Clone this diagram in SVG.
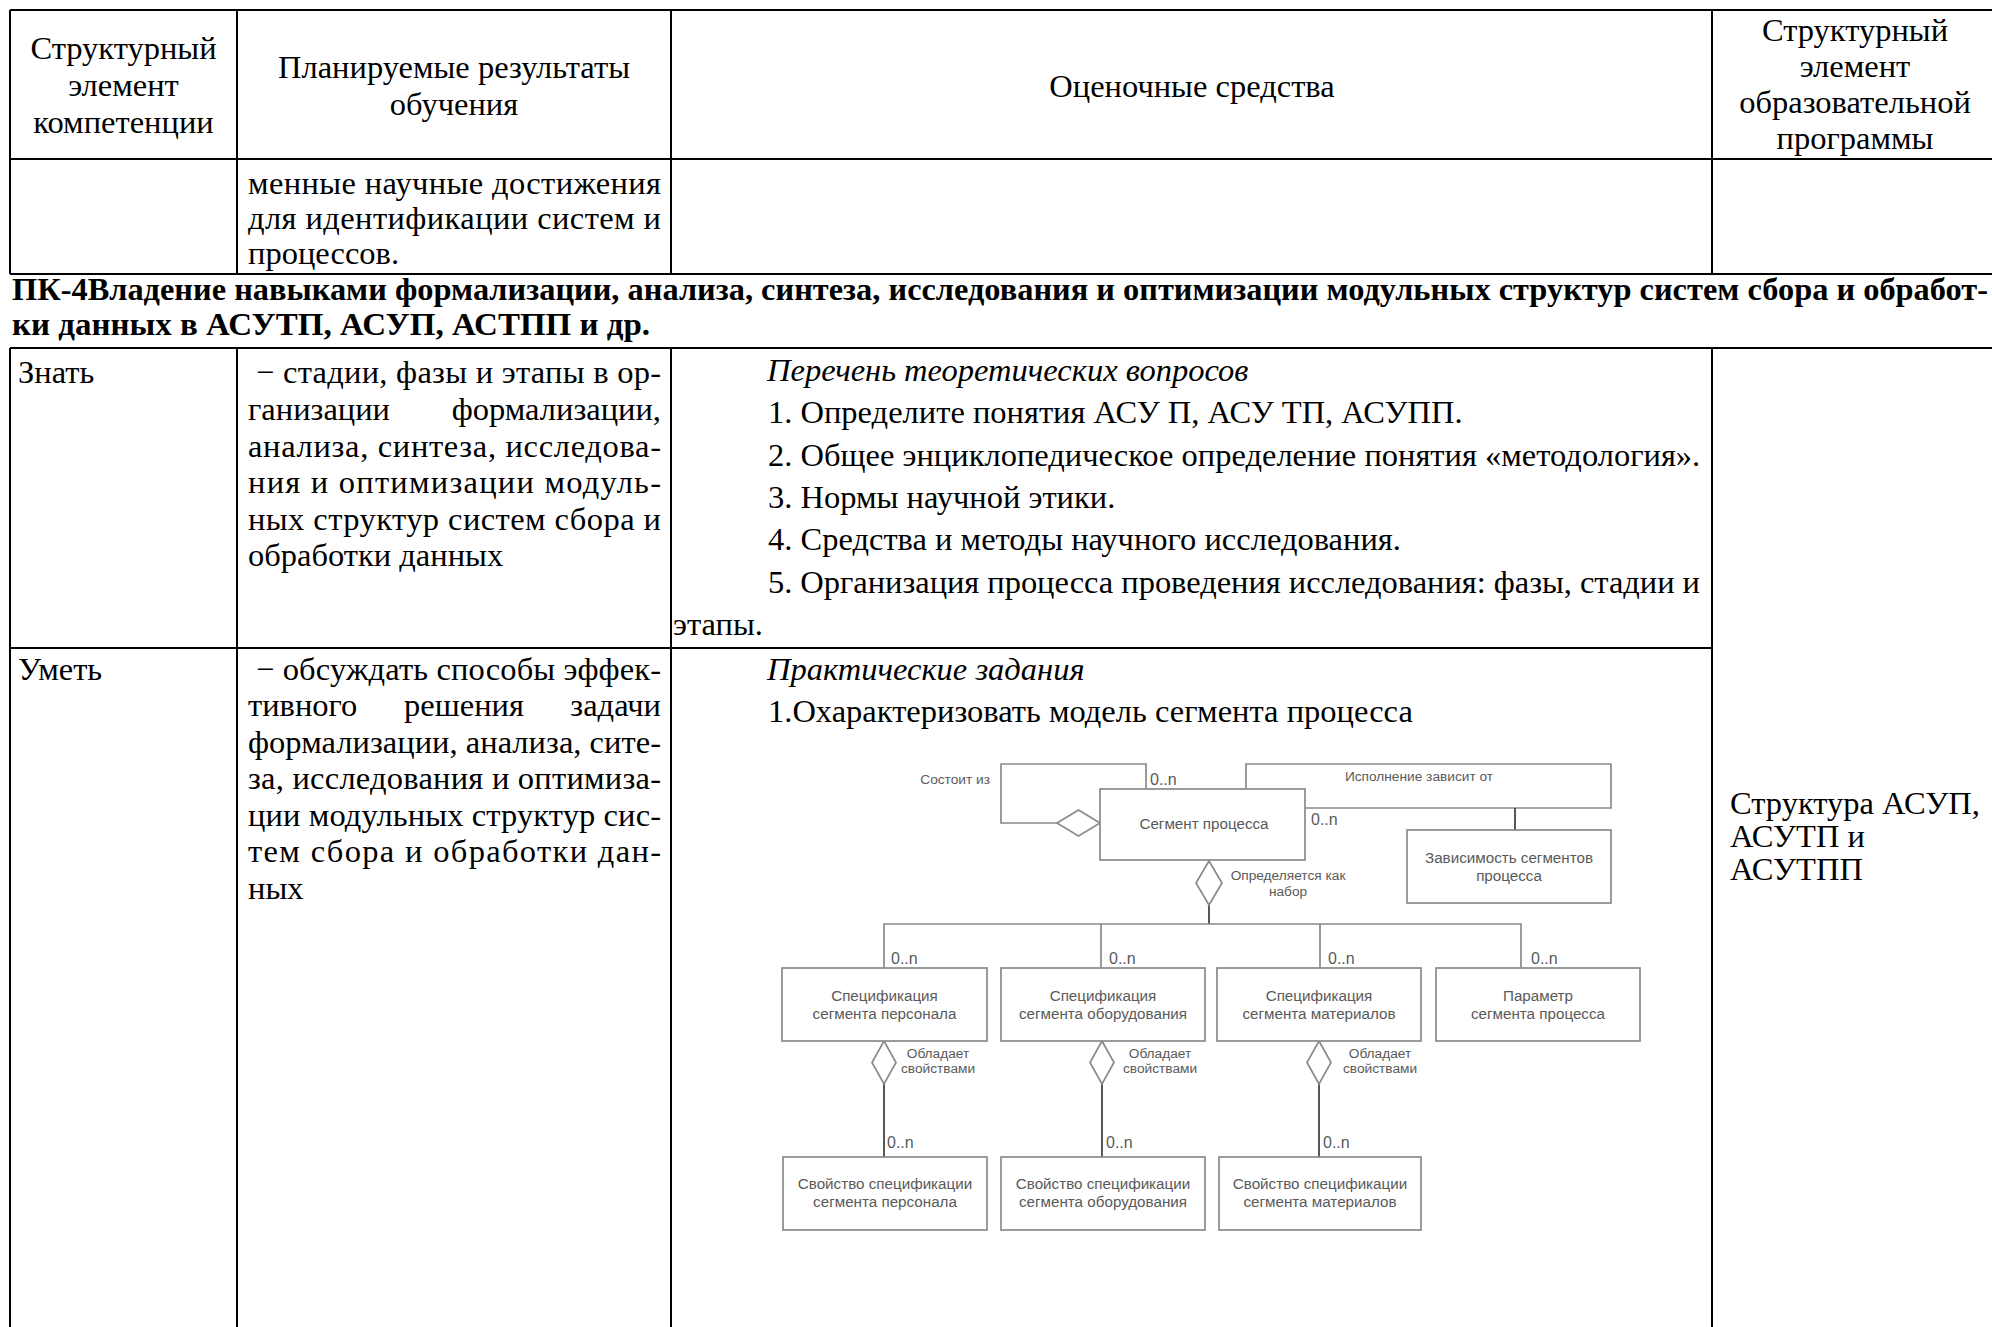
<svg xmlns="http://www.w3.org/2000/svg" width="1992" height="1327" viewBox="0 0 1992 1327">
<style>
.t{font-family:"Liberation Serif","Times New Roman",serif;font-size:32.5px;fill:#000}
.b{font-weight:bold}
.i{font-style:italic}
.c{text-anchor:middle}
.e{text-anchor:end}
.ln{stroke:#000;stroke-width:2;fill:none}
.bx{fill:#fff;stroke:#8a8a8a;stroke-width:1.7}
.dl{stroke:#8a8a8a;stroke-width:1.7;fill:none}
.dk{stroke:#3a3a3a;stroke-width:1.7;fill:none}
.dm{fill:#fff;stroke:#8a8a8a;stroke-width:1.7}
.dt{font-family:"Liberation Sans",Arial,sans-serif;font-size:15.2px;fill:#5a5a5a;text-anchor:middle}
.ds{font-family:"Liberation Sans",Arial,sans-serif;font-size:13.7px;fill:#5a5a5a}
.dn{font-family:"Liberation Sans",Arial,sans-serif;font-size:16px;fill:#5a5a5a}
</style>
<rect width="1992" height="1327" fill="#fff"/>
<g id="grid" class="ln">
<path d="M10 10H1992M10 159H1992M10 274H1992M10 348H1992M10 648H1712"/>
<path d="M10 10V274M10 348V1327M237 10V274M237 348V1327M671 10V274M671 348V1327M1712 10V274M1712 348V1327"/>
</g>
<g id="header" class="t">
<text class="c" x="123.5" y="59">Структурный</text>
<text class="c" x="123.5" y="96">элемент</text>
<text class="c" x="123.5" y="133">компетенции</text>
<text class="c" x="454" y="78">Планируемые результаты</text>
<text class="c" x="454" y="115">обучения</text>
<text class="c" x="1192" y="97">Оценочные средства</text>
<text class="c" x="1855" y="41">Структурный</text>
<text class="c" x="1855" y="77">элемент</text>
<text class="c" x="1855" y="113">образовательной</text>
<text class="c" x="1855" y="149">программы</text>
</g>
<g id="row-prev" class="t">
<text x="248" y="194" textLength="413" lengthAdjust="spacing">менные научные достижения</text>
<text x="248" y="229" textLength="413" lengthAdjust="spacing">для идентификации систем и</text>
<text x="248" y="264">процессов.</text>
</g>
<g id="pk4" class="t b">
<text x="12" y="300" textLength="1976" lengthAdjust="spacingAndGlyphs">ПК-4Владение навыками формализации, анализа, синтеза, исследования и оптимизации модульных структур систем сбора и обработ-</text>
<text x="12" y="335" textLength="638" lengthAdjust="spacingAndGlyphs">ки данных в АСУТП, АСУП, АСТПП и др.</text>
</g>
<g id="znat" class="t">
<text x="18" y="383">Знать</text>
<text x="256" y="383" textLength="405" lengthAdjust="spacing">− стадии, фазы и этапы в ор-</text>
<text x="248" y="420">ганизации</text>
<text class="e" x="661" y="420">формализации,</text>
<text x="248" y="456.5" textLength="413" lengthAdjust="spacing">анализа, синтеза, исследова-</text>
<text x="248" y="493" textLength="413" lengthAdjust="spacing">ния и оптимизации модуль-</text>
<text x="248" y="529.5" textLength="413" lengthAdjust="spacing">ных структур систем сбора и</text>
<text x="248" y="566">обработки данных</text>
<text class="i" x="767" y="381">Перечень теоретических вопросов</text>
<text x="768" y="423">1. Определите понятия АСУ П, АСУ ТП, АСУПП.</text>
<text x="768" y="465.5">2. Общее энциклопедическое определение понятия «методология».</text>
<text x="768" y="508">3. Нормы научной этики.</text>
<text x="768" y="550">4. Средства и методы научного исследования.</text>
<text x="768" y="592.5" textLength="932" lengthAdjust="spacing">5. Организация процесса проведения исследования: фазы, стадии и</text>
<text x="673" y="635">этапы.</text>
</g>
<g id="umet" class="t">
<text x="18" y="680">Уметь</text>
<text x="256" y="680" textLength="405" lengthAdjust="spacing">− обсуждать способы эффек-</text>
<text x="248" y="716">тивного</text>
<text class="c" x="464" y="716">решения</text>
<text class="e" x="661" y="716">задачи</text>
<text x="248" y="753" textLength="413" lengthAdjust="spacing">формализации, анализа, сите-</text>
<text x="248" y="789" textLength="413" lengthAdjust="spacing">за, исследования и оптимиза-</text>
<text x="248" y="826" textLength="413" lengthAdjust="spacing">ции модульных структур сис-</text>
<text x="248" y="862" textLength="413" lengthAdjust="spacing">тем сбора и обработки дан-</text>
<text x="248" y="899">ных</text>
<text class="i" x="767" y="680">Практические задания</text>
<text x="768" y="722">1.Охарактеризовать модель сегмента процесса</text>
</g>
<g id="struct" class="t">
<text x="1730" y="814">Структура АСУП,</text>
<text x="1730" y="847">АСУТП и</text>
<text x="1730" y="880">АСУТПП</text>
</g>
<g id="connectors">
<path class="dl" d="M1146 789V764H1001V823H1057"/>
<path class="dl" d="M1246 789V764H1611V808H1305"/>
<path class="dk" d="M1515 808V830"/>
<path class="dk" d="M1209 905V924"/>
<path class="dl" d="M884 968V924H1521V968M1101 924V968M1320 924V968"/>
<path class="dk" d="M884 1084V1157M1102 1084V1157M1319 1084V1157"/>
<polygon class="dm" points="1057,823 1078.5,810 1100,823 1078.5,836"/>
<polygon class="dm" points="1209,861 1222,883 1209,905 1196,883"/>
<polygon class="dm" points="884,1041 896,1062.5 884,1084 872,1062.5"/>
<polygon class="dm" points="1102,1041 1114,1062.5 1102,1084 1090,1062.5"/>
<polygon class="dm" points="1319,1041 1331,1062.5 1319,1084 1307,1062.5"/>
<text class="ds" x="990" y="784" text-anchor="end">Состоит из</text>
<text class="dn" x="1150" y="785">0..n</text>
<text class="dn" x="1311" y="825">0..n</text>
<text class="ds" x="1419" y="781" text-anchor="middle">Исполнение зависит от</text>
<text class="ds" x="1288" y="880" text-anchor="middle">Определяется как</text>
<text class="ds" x="1288" y="896" text-anchor="middle">набор</text>
<text class="dn" x="891" y="964">0..n</text>
<text class="dn" x="1109" y="964">0..n</text>
<text class="dn" x="1328" y="964">0..n</text>
<text class="dn" x="1531" y="964">0..n</text>
<text class="ds" x="938" y="1058" text-anchor="middle">Обладает</text>
<text class="ds" x="938" y="1073" text-anchor="middle">свойствами</text>
<text class="ds" x="1160" y="1058" text-anchor="middle">Обладает</text>
<text class="ds" x="1160" y="1073" text-anchor="middle">свойствами</text>
<text class="ds" x="1380" y="1058" text-anchor="middle">Обладает</text>
<text class="ds" x="1380" y="1073" text-anchor="middle">свойствами</text>
<text class="dn" x="887" y="1148">0..n</text>
<text class="dn" x="1106" y="1148">0..n</text>
<text class="dn" x="1323" y="1148">0..n</text>
<circle cx="1236" cy="970" r="1.8" fill="#2a3cff"/>
</g>
<g id="n-segment"><rect class="bx" x="1100" y="789" width="205" height="71"/><text class="dt" x="1204" y="829">Сегмент процесса</text></g>
<g id="n-depend"><rect class="bx" x="1407" y="830" width="204" height="73"/><text class="dt" x="1509" y="863">Зависимость сегментов</text><text class="dt" x="1509" y="881">процесса</text></g>
<g id="n-spec1"><rect class="bx" x="782" y="968" width="205" height="73"/><text class="dt" x="884.5" y="1001">Спецификация</text><text class="dt" x="884.5" y="1019">сегмента персонала</text></g>
<g id="n-spec2"><rect class="bx" x="1001" y="968" width="204" height="73"/><text class="dt" x="1103" y="1001">Спецификация</text><text class="dt" x="1103" y="1019">сегмента оборудования</text></g>
<g id="n-spec3"><rect class="bx" x="1217" y="968" width="204" height="73"/><text class="dt" x="1319" y="1001">Спецификация</text><text class="dt" x="1319" y="1019">сегмента материалов</text></g>
<g id="n-param"><rect class="bx" x="1436" y="968" width="204" height="73"/><text class="dt" x="1538" y="1001">Параметр</text><text class="dt" x="1538" y="1019">сегмента процесса</text></g>
<g id="n-prop1"><rect class="bx" x="783" y="1157" width="204" height="73"/><text class="dt" x="885" y="1189">Свойство спецификации</text><text class="dt" x="885" y="1207">сегмента персонала</text></g>
<g id="n-prop2"><rect class="bx" x="1001" y="1157" width="204" height="73"/><text class="dt" x="1103" y="1189">Свойство спецификации</text><text class="dt" x="1103" y="1207">сегмента оборудования</text></g>
<g id="n-prop3"><rect class="bx" x="1219" y="1157" width="202" height="73"/><text class="dt" x="1320" y="1189">Свойство спецификации</text><text class="dt" x="1320" y="1207">сегмента материалов</text></g>
</svg>
